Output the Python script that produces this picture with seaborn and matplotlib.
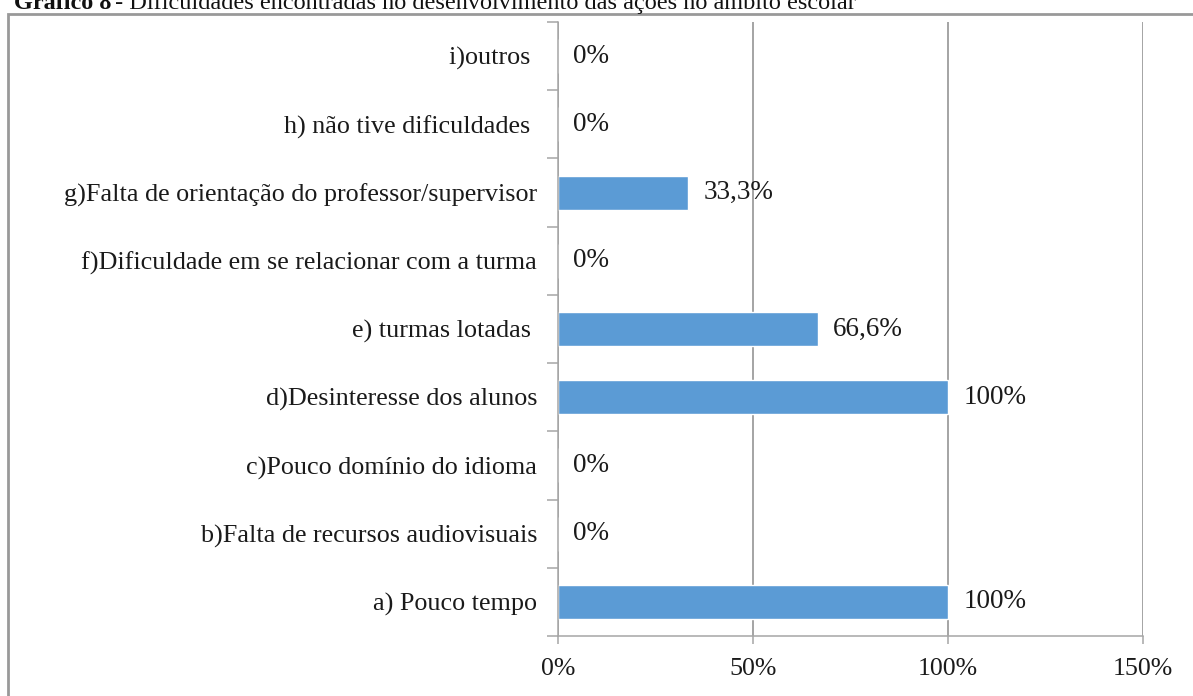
import numpy as np
import matplotlib
matplotlib.use("Agg")
import matplotlib.pyplot as plt
import seaborn as sns
import pandas as pd
from matplotlib.patches import Rectangle
from matplotlib.ticker import FixedLocator

# categories listed top -> bottom as in the chart
categorias = [
    "i)outros ",
    "h) não tive dificuldades ",
    "g)Falta de orientação do professor/supervisor",
    "f)Dificuldade em se relacionar com a turma",
    "e) turmas lotadas ",
    "d)Desinteresse dos alunos",
    "c)Pouco domínio do idioma",
    "b)Falta de recursos audiovisuais",
    "a) Pouco tempo",
]
valores = [0, 0, 33.3, 0, 66.6, 100, 0, 0, 100]
rotulos = ["0%", "0%", "33,3%", "0%", "66,6%", "100%", "0%", "0%", "100%"]
xticks = [0, 50, 100, 150]
xtick_labels = ["0%", "50%", "100%", "150%"]

sns.set_theme(style="white")
plt.rcParams["font.family"] = ["Liberation Serif", "DejaVu Serif"]

W, H = 1193, 696
fig = plt.figure(figsize=(W / 100, H / 100), dpi=100)
ax = fig.add_axes([558 / W, 1 - 636 / H, (1143 - 558) / W, (636 - 22) / H])

df = pd.DataFrame({"cat": categorias, "val": valores})
sns.barplot(data=df, x="val", y="cat", order=categorias, color="#5B9BD5",
            width=0.5, saturation=1, ax=ax)

ax.set_xlim(0, 150)
ax.set_ylim(len(categorias) - 0.5, -0.5)
ax.set_xlabel("")
ax.set_ylabel("")

ax.set_xticks(xticks)
ax.set_xticklabels(xtick_labels, fontsize=18.6, color="#1a1a1a")
ax.grid(axis="x", color="#8C8C8C", linewidth=1.1)
ax.set_axisbelow(True)

ax.tick_params(axis="y", which="major", length=0, pad=15, labelsize=18.8,
               labelcolor="#1a1a1a")
ax.yaxis.set_minor_locator(FixedLocator(np.arange(-0.5, len(categorias), 1)))
ax.tick_params(axis="y", which="minor", length=8, width=1.1, color="#A6A6A6",
               direction="out", left=True)
ax.tick_params(axis="x", which="major", length=6, width=1.1, color="#A6A6A6",
               direction="out", bottom=True, pad=10)

for side in ["top", "right"]:
    ax.spines[side].set_visible(False)
for side in ["left", "bottom"]:
    ax.spines[side].set_color("#A6A6A6")
    ax.spines[side].set_linewidth(1.1)

txts = ax.bar_label(ax.containers[0], labels=rotulos, padding=11,
                    fontsize=19.5, color="#1a1a1a")
for tx in txts:
    tx.set_va("center")
    tx.set_y(0)

# outer frame of the figure (cut at the right and bottom)
fig.patches.append(Rectangle((8 / W, -0.1), 1.2, 1 - 14 / H + 0.1,
                             transform=fig.transFigure, fill=False,
                             edgecolor="#999999", linewidth=2))

# caption above the frame, partly cut off at the top as in the source
fig.text(14 / W, 1 - 9 / H, "Gráfico 8", fontsize=17.5, fontweight="bold",
         va="baseline", ha="left", color="#111111")
fig.text(109 / W, 1 - 9 / H,
         " - Dificuldades encontradas no desenvolvimento das ações no âmbito escolar",
         fontsize=17.5, va="baseline", ha="left", color="#111111")

fig.savefig("out.png", dpi=100)
